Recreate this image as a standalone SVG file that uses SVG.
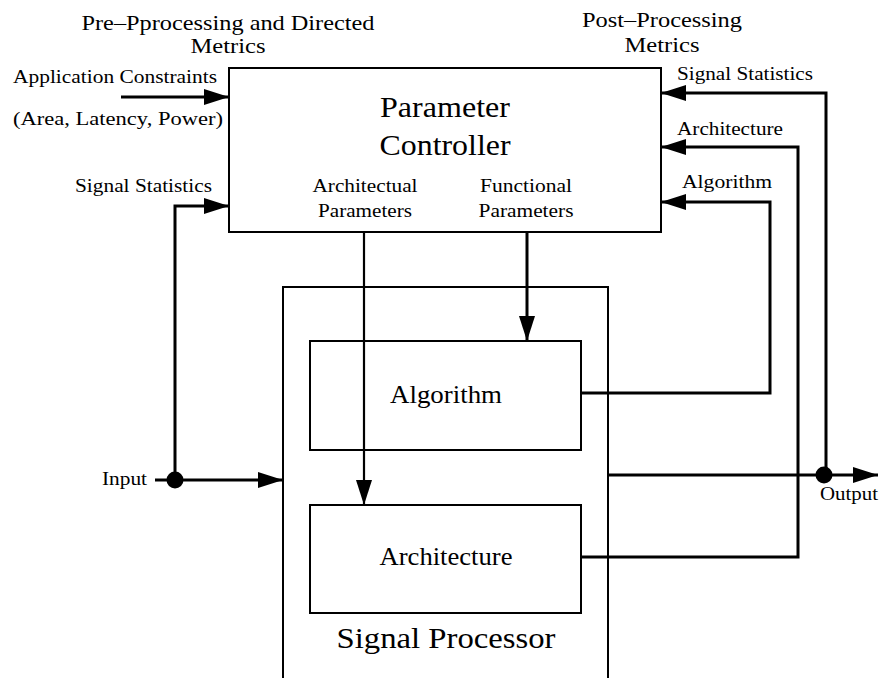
<svg xmlns="http://www.w3.org/2000/svg" width="880" height="678" viewBox="0 0 880 678" font-family="'Liberation Serif', serif">
<style>
text{font-family:'Liberation Serif', 'Times New Roman', Times, serif;fill:#000}
.box{fill:none;stroke:#000;stroke-width:2}
.wire{fill:none;stroke:#000;stroke-width:3}
.thin{fill:none;stroke:#000;stroke-width:2.2}
.hd{font-size:22px}
.sm{font-size:19px}
.big{font-size:29px}
.mid{font-size:25px}
</style>
<defs>
<marker id="ah" markerUnits="userSpaceOnUse" markerWidth="26" markerHeight="18" refX="25" refY="8" orient="auto">
<path d="M0,0 L25,8 L0,16 z" fill="#000"/>
</marker>
</defs>
<rect width="880" height="678" fill="#fff"/>
<g id="header-pre">
<text class="hd" x="228" y="30" text-anchor="middle" textLength="293" lengthAdjust="spacingAndGlyphs">Pre–Pprocessing and Directed</text>
<text class="hd" x="228" y="53" text-anchor="middle" textLength="75" lengthAdjust="spacingAndGlyphs">Metrics</text>
</g>
<g id="header-post">
<text class="hd" x="662" y="27" text-anchor="middle" textLength="160" lengthAdjust="spacingAndGlyphs">Post–Processing</text>
<text class="hd" x="662" y="52" text-anchor="middle" textLength="75" lengthAdjust="spacingAndGlyphs">Metrics</text>
</g>
<g id="parameter-controller">
<rect class="box" x="229" y="68" width="432" height="164"/>
<text class="big" x="445" y="117" text-anchor="middle" textLength="130" lengthAdjust="spacingAndGlyphs">Parameter</text>
<text class="big" x="445" y="155" text-anchor="middle" textLength="131" lengthAdjust="spacingAndGlyphs">Controller</text>
<text class="sm" x="365" y="192" text-anchor="middle" textLength="105" lengthAdjust="spacingAndGlyphs">Architectual</text>
<text class="sm" x="365" y="217" text-anchor="middle" textLength="94" lengthAdjust="spacingAndGlyphs">Parameters</text>
<text class="sm" x="526" y="192" text-anchor="middle" textLength="92" lengthAdjust="spacingAndGlyphs">Functional</text>
<text class="sm" x="526" y="217" text-anchor="middle" textLength="95" lengthAdjust="spacingAndGlyphs">Parameters</text>
</g>
<g id="signal-processor">
<path class="box" d="M283,678 V287 H608 V678"/>
<text class="big" x="446" y="648" text-anchor="middle" textLength="219" lengthAdjust="spacingAndGlyphs">Signal Processor</text>
</g>
<g id="algorithm">
<rect class="box" x="310" y="341" width="271" height="109"/>
<text class="mid" x="446" y="403" text-anchor="middle" textLength="112" lengthAdjust="spacingAndGlyphs">Algorithm</text>
</g>
<g id="architecture">
<rect class="box" x="310" y="505" width="271" height="108"/>
<text class="mid" x="446" y="565" text-anchor="middle" textLength="133" lengthAdjust="spacingAndGlyphs">Architecture</text>
</g>
<g id="labels">
<text class="sm" x="13" y="83" textLength="204" lengthAdjust="spacingAndGlyphs">Application Constraints</text>
<text class="sm" x="13" y="125" textLength="210" lengthAdjust="spacingAndGlyphs">(Area, Latency, Power)</text>
<text class="sm" x="75" y="192" textLength="137" lengthAdjust="spacingAndGlyphs">Signal Statistics</text>
<text class="sm" x="677" y="80" textLength="136" lengthAdjust="spacingAndGlyphs">Signal Statistics</text>
<text class="sm" x="677" y="135" textLength="106" lengthAdjust="spacingAndGlyphs">Architecture</text>
<text class="sm" x="682" y="188" textLength="90" lengthAdjust="spacingAndGlyphs">Algorithm</text>
<text class="sm" x="102" y="485" textLength="45" lengthAdjust="spacingAndGlyphs">Input</text>
<text class="sm" x="820" y="500" textLength="58" lengthAdjust="spacingAndGlyphs">Output</text>
</g>
<g id="connectors">
<path class="wire" d="M121,97 H229" marker-end="url(#ah)"/>
<path class="wire" d="M175,480 V206 H229" marker-end="url(#ah)"/>
<path class="wire" d="M155,480 H283" marker-end="url(#ah)"/>
<path class="thin" d="M364,232 V505" marker-end="url(#ah)"/>
<path class="wire" d="M527,232 V341" marker-end="url(#ah)"/>
<path class="wire" d="M581,393 H770 V202 H661" marker-end="url(#ah)"/>
<path class="wire" d="M581,557 H798 V147 H661" marker-end="url(#ah)"/>
<path class="wire" d="M826,475 V93 H661" marker-end="url(#ah)"/>
<path class="wire" d="M608,475 H878" marker-end="url(#ah)"/>
<circle cx="175" cy="480" r="8.5" fill="#000"/>
<circle cx="824" cy="475" r="8.5" fill="#000"/>
</g>
</svg>
